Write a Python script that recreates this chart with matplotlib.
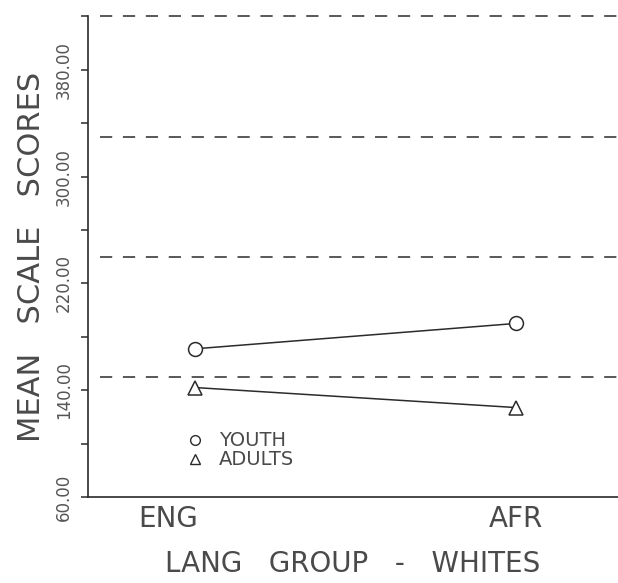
import matplotlib.pyplot as plt
import matplotlib.transforms as mtransforms
from matplotlib.lines import Line2D

# data
groups = ['ENG', 'AFR']
youth = [171, 190]
adults = [142, 127]
ref_levels = [150, 240, 330, 420]
ytick_vals = list(range(60, 421, 40))
ylabel_vals = [60, 140, 220, 300, 380]

INK = '#2b2b2b'
TXT = '#4a4a4a'


def main():
    fig = plt.figure(figsize=(6.18, 5.83), dpi=100)
    ax = fig.add_axes([0.1424, 0.1475, 0.8576, 0.8244])

    x = list(range(len(groups)))
    ax.plot(x, youth, color=INK, lw=1.1, marker='o', ms=10,
            mfc='white', mec=INK, mew=1.1)
    ax.plot(x, adults, color=INK, lw=1.1, marker='^', ms=10,
            mfc='white', mec=INK, mew=1.1)

    # dashed reference lines
    for lev in ref_levels:
        ax.axhline(lev, xmin=0.022, xmax=1.0, color=INK, lw=1.1,
                   dashes=(8, 7), clip_on=False)

    ax.set_xlim(-0.333, 1.318)
    ax.set_ylim(60, 420)

    ax.set_yticks(ytick_vals)
    ax.set_yticklabels(['%.2f' % v if v in ylabel_vals else '' for v in ytick_vals],
                       rotation=90, va='center', fontsize=12, color='#555555')
    ax.tick_params(axis='y', direction='out', length=5, width=1.1, color=INK, pad=6)

    ax.set_xticks(x)
    ax.set_xticklabels(groups, fontsize=20, color=TXT)
    ax.tick_params(axis='x', length=0, pad=6)
    # the plotter put ENG a little left of its point
    eng = ax.get_xticklabels()[0]
    eng.set_transform(eng.get_transform() +
                      mtransforms.ScaledTranslation(-0.27, 0, fig.dpi_scale_trans))

    for side in ['top', 'right']:
        ax.spines[side].set_visible(False)
    for side in ['left', 'bottom']:
        ax.spines[side].set_color(INK)
        ax.spines[side].set_linewidth(1.2)

    ax.set_ylabel('MEAN   SCALE   SCORES', fontsize=22, color=TXT, labelpad=6)
    ax.set_xlabel('LANG   GROUP   -   WHITES', fontsize=20, color=TXT, labelpad=12)

    handles = [
        Line2D([], [], ls='none', marker='o', ms=7, mfc='white', mec=INK, mew=1.0),
        Line2D([], [], ls='none', marker='^', ms=7, mfc='white', mec=INK, mew=1.0),
    ]
    leg = ax.legend(handles, ['YOUTH', 'ADULTS'], loc='center left',
                    bbox_to_anchor=(0.184, 0.097), frameon=False,
                    fontsize=14, labelspacing=0.0, handlelength=1.0,
                    handletextpad=0.7, borderpad=0, borderaxespad=0)
    for t in leg.get_texts():
        t.set_color(TXT)

    fig.savefig('out.png', dpi=100)


if __name__ == '__main__':
    main()
